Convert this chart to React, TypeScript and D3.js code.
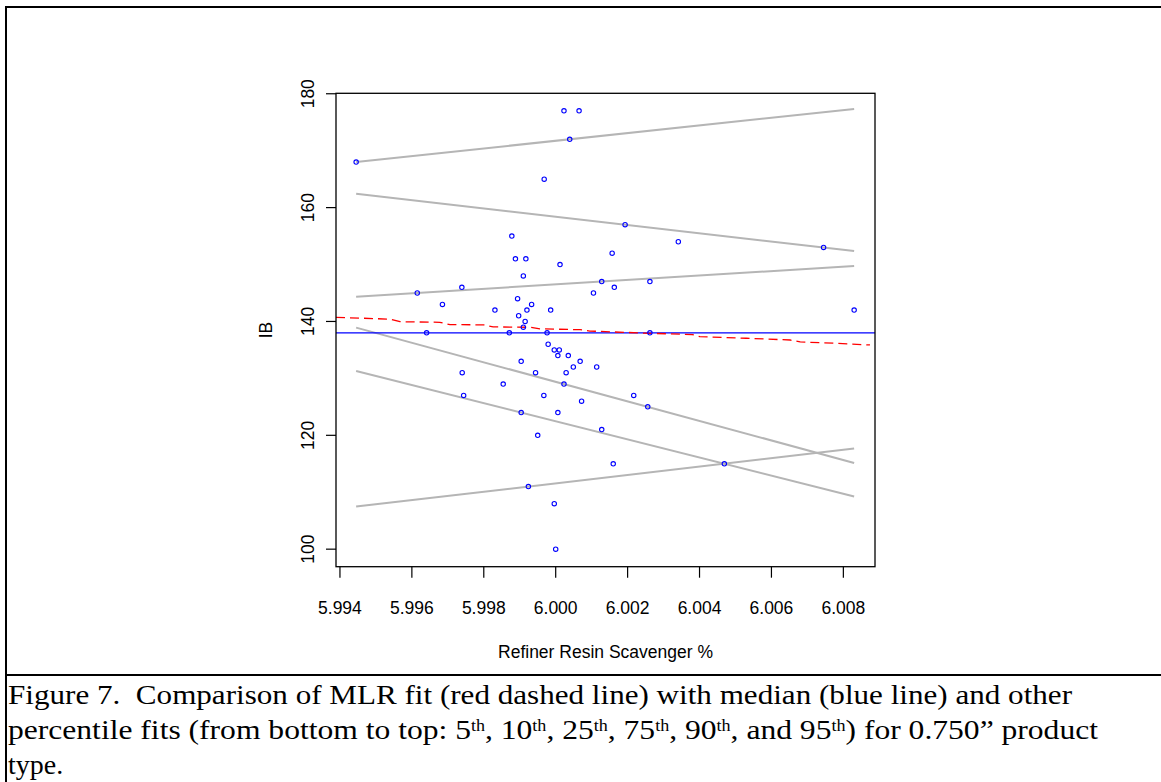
import React from 'react';
import * as d3 from 'd3';

// Refiner Resin Scavenger % (x) and IB (y) observations
const scavenger = [
  6.00023, 6.00065, 6.00039, 5.99445, 5.99968, 6.00193, 5.99878, 6.00341, 6.00745, 6.00157,
  5.99888, 5.99917, 6.00012, 5.9991, 6.00128, 6.00262, 5.99739, 6.00163, 5.99615, 6.00105,
  5.99894, 5.99685, 5.99933, 5.99831, 5.9992, 5.99986, 6.0083, 5.99897, 5.99915, 5.9991,
  5.99641, 5.99871, 5.99976, 6.00262, 5.99979, 5.99996, 6.0001, 6.00006, 6.00035, 5.99904,
  6.00068, 6.00049, 6.00114, 5.9974, 5.99944, 6.00029, 5.99854, 6.00023, 5.99744, 5.99967,
  6.00217, 6.00072, 6.00256, 5.99904, 6.00006, 6.00128, 5.9995, 6.0016, 6.00469, 5.99924,
  5.99996, 6.0,
];
const ib = [
  177, 177, 172, 168, 165, 157, 155, 154, 153, 152,
  151, 151, 150, 148, 147, 147, 146, 146, 145, 145,
  144, 143, 143, 142, 142, 142, 142, 141, 140, 139,
  138, 138, 138, 138, 136, 135, 135, 134, 134, 133,
  133, 132, 132, 131, 131, 131, 129, 129, 127, 127,
  127, 126, 125, 124, 124, 121, 120, 115, 115, 111,
  108, 100,
];

// Percentile fit lines (value at min x, value at max x)
const percentiles = ['5th', '10th', '25th', '75th', '90th', '95th'];
const pctStart = [107.48, 131.31, 138.92, 144.34, 162.42, 168.0];
const pctEnd = [117.67, 109.25, 115.15, 149.75, 152.37, 177.33];

const medianIB = 138;

// MLR fitted curve (red dashed)
const mlrX = [5.99389, 5.9954, 5.99567, 5.99678, 5.99706, 5.998, 5.99826, 5.9993, 5.99956,
  6.00068, 6.00095, 6.00262, 6.0038, 6.00401, 6.0053, 6.00652, 6.0068, 6.0078, 6.00874];
const mlrY = [140.73, 140.4, 139.96, 139.85, 139.45, 139.4, 139.05, 138.97, 138.7,
  138.55, 138.32, 137.92, 137.7, 137.32, 137.05, 136.74, 136.4, 136.16, 135.87];

const xTicks = [5.994, 5.996, 5.998, 6.0, 6.002, 6.004, 6.006, 6.008];
const yTicks = [100, 120, 140, 160, 180];

const W = 1161;
const H = 782;
const L = 336, R = 875, T = 93.3, B = 566.7;

export default function App() {
  const x = d3.scaleLinear().domain([5.99389, 6.00888]).range([L, R]);
  const y = d3.scaleLinear().domain([96.92, 180.08]).range([B, T]);
  const xMin = d3.min(scavenger) as number;
  const xMax = d3.max(scavenger) as number;
  const mlrLine = d3.line<number>().x((d, i) => x(mlrX[i])).y((d) => y(d));
  const sans = "'Liberation Sans', Arial, Helvetica, sans-serif";
  const serif = "'Liberation Serif', 'Times New Roman', Times, serif";
  const sup = (s: string) => (
    <tspan baselineShift="super" fontSize={16}>{s}</tspan>
  );
  return (
    <svg width={W} height={H} style={{ position: 'absolute', left: 0, top: 0, display: 'block', background: '#fff' }}>
      <rect x={0} y={0} width={W} height={H} fill="#fff" />
      {/* outer frame */}
      <line x1={6} y1={6} x2={6} y2={H} stroke="#000" strokeWidth={2} />
      <line x1={5} y1={7} x2={W} y2={7} stroke="#000" strokeWidth={2} />
      <line x1={5} y1={675} x2={W} y2={675} stroke="#000" strokeWidth={2} />

      {/* percentile fits */}
      {percentiles.map((p, i) => (
        <line key={p} x1={x(xMin)} y1={y(pctStart[i])} x2={x(xMax)} y2={y(pctEnd[i])}
          stroke="#b5b5b5" strokeWidth={2} />
      ))}
      {/* median */}
      <line x1={L} x2={R} y1={y(medianIB)} y2={y(medianIB)} stroke="#0000ff" strokeWidth={1.2} />
      {/* MLR fit */}
      <path d={mlrLine(mlrY) as string} fill="none" stroke="#ff0000" strokeWidth={1.3} strokeDasharray="9,5" />

      {/* points */}
      {scavenger.map((v, i) => (
        <circle key={i} cx={x(v)} cy={y(ib[i])} r={2.2} fill="none" stroke="#0000ff" strokeWidth={1.1} />
      ))}

      {/* box */}
      <rect x={L} y={T} width={R - L} height={B - T} fill="none" stroke="#000" strokeWidth={1.3} />

      {/* x axis */}
      {xTicks.map((t) => (
        <g key={t}>
          <line x1={x(t)} x2={x(t)} y1={B} y2={B + 11} stroke="#000" strokeWidth={1.2} />
          <text x={x(t)} y={614} textAnchor="middle" fontFamily={sans} fontSize={17.5}>{t.toFixed(3)}</text>
        </g>
      ))}
      <text x={(L + R) / 2} y={658} textAnchor="middle" fontFamily={sans} fontSize={17.5}>Refiner Resin Scavenger %</text>

      {/* y axis */}
      {yTicks.map((t) => (
        <g key={t}>
          <line x1={L - 10} x2={L} y1={y(t)} y2={y(t)} stroke="#000" strokeWidth={1.2} />
          <text transform={`translate(314,${y(t)}) rotate(-90)`} textAnchor="middle" fontFamily={sans} fontSize={17.5}>{t}</text>
        </g>
      ))}
      <text transform={`translate(272,${(T + B) / 2}) rotate(-90)`} textAnchor="middle" fontFamily={sans} fontSize={17.5}>IB</text>

      {/* caption */}
      <text x={8} y={704} fontFamily={serif} fontSize={28} style={{ whiteSpace: 'pre' }}
        textLength={1064} lengthAdjust="spacingAndGlyphs">
        Figure 7.  Comparison of MLR fit (red dashed line) with median (blue line) and other
      </text>
      <text x={8} y={739} fontFamily={serif} fontSize={28} style={{ whiteSpace: 'pre' }}
        textLength={1090} lengthAdjust="spacingAndGlyphs">
        percentile fits (from bottom to top: 5{sup('th')}, 10{sup('th')}, 25{sup('th')}, 75{sup('th')}, 90{sup('th')}, and 95{sup('th')}) for 0.750” product
      </text>
      <text x={8} y={774} fontFamily={serif} fontSize={28}>type.</text>
    </svg>
  );
}
